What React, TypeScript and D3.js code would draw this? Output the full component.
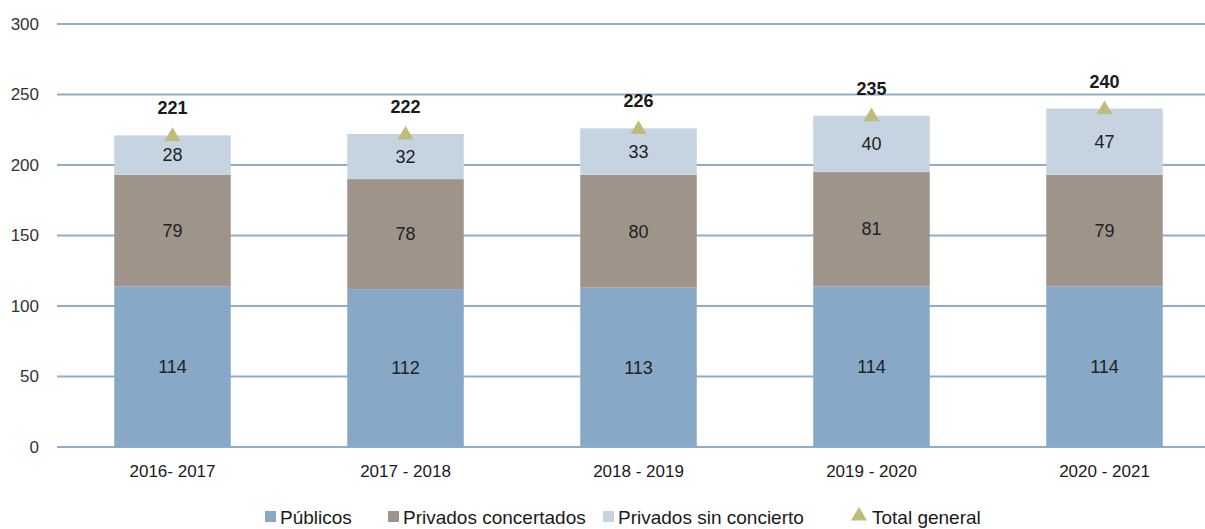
import React from 'react';
import * as d3 from 'd3';

const categories = ['2016- 2017', '2017 - 2018', '2018 - 2019', '2019 - 2020', '2020 - 2021'];
const publicos = [114, 112, 113, 114, 114];
const concertados = [79, 78, 80, 81, 79];
const sinConcierto = [28, 32, 33, 40, 47];
const totals = [221, 222, 226, 235, 240];
const yTicks = [0, 50, 100, 150, 200, 250, 300];

const seriesNames = ['Públicos', 'Privados concertados', 'Privados sin concierto'];
const colors = ['#87a8c6', '#9e948a', '#c5d4e0'];
const triColor = '#bfbb7b';
const gridColor = '#8eadca';
const font = '"Liberation Sans Narrow", "Arial Narrow", "Liberation Sans", sans-serif';

const W = 1205;
const H = 529;

const App: React.FC = () => {
  const x = d3.scaleBand<string>().domain(categories).range([56, 1221]).paddingInner(0.5).paddingOuter(0.25);
  const y = d3.scaleLinear().domain([0, 300]).range([447, 24]);

  const rows = categories.map((c, i) => ({ cat: c, p: publicos[i], c: concertados[i], s: sinConcierto[i] }));
  const stack = d3.stack<any>().keys(['p', 'c', 's'])(rows);
  const tri = d3.symbol().type(d3.symbolTriangle).size(110);

  const legend = [
    { label: seriesNames[0], x: 265, color: colors[0], kind: 'rect' },
    { label: seriesNames[1], x: 388, color: colors[1], kind: 'rect' },
    { label: seriesNames[2], x: 603, color: colors[2], kind: 'rect' },
    { label: 'Total general', x: 853, color: triColor, kind: 'tri' },
  ];

  return (
    <svg width={W} height={H} style={{ position: 'absolute', left: 0, top: 0 }} fontFamily={font}>
      <rect width={W} height={H} fill="#fff" />
      {yTicks.map(t => (
        <g key={t}>
          <line x1={57} x2={W} y1={y(t)} y2={y(t)} stroke={gridColor} strokeWidth={2} />
          <text x={39} y={y(t)} dy="0.35em" textAnchor="end" fontSize={17} fill="#333">{t}</text>
        </g>
      ))}
      {stack.map((layer, li) => (
        <g key={li}>
          {layer.map((d, i) => {
            const cat = categories[i];
            const top = y(d[1]);
            const bot = y(d[0]);
            return (
              <g key={cat}>
                <rect x={x(cat)} y={top} width={x.bandwidth()} height={bot - top} fill={colors[li]} />
                <text x={x(cat)! + x.bandwidth() / 2} y={(top + bot) / 2} dy="0.35em" textAnchor="middle" fontSize={18} fill="#222">
                  {d[1] - d[0]}
                </text>
              </g>
            );
          })}
        </g>
      ))}
      {categories.map((c, i) => {
        const cx = x(c)! + x.bandwidth() / 2;
        return (
          <g key={c}>
            <path d={tri()!} transform={`translate(${cx},${y(totals[i]) + 1})`} fill={triColor} />
            <text x={cx} y={y(totals[i]) - 21} textAnchor="middle" fontSize={18} fontWeight="bold" fill="#1a1a1a">{totals[i]}</text>
            <text x={cx} y={471} dy="0.35em" textAnchor="middle" fontSize={17} fill="#1a1a1a">{c}</text>
          </g>
        );
      })}
      {legend.map(l => (
        <g key={l.label}>
          {l.kind === 'rect'
            ? <rect x={l.x} y={511} width={11} height={11} fill={l.color} />
            : <path d={tri()!} transform={`translate(${l.x + 6},${516})`} fill={l.color} />}
          <text x={l.x + (l.kind === 'tri' ? 19 : 15)} y={517} dy="0.35em" fontSize={19} fill="#1a1a1a">{l.label}</text>
        </g>
      ))}
    </svg>
  );
};

export default App;
